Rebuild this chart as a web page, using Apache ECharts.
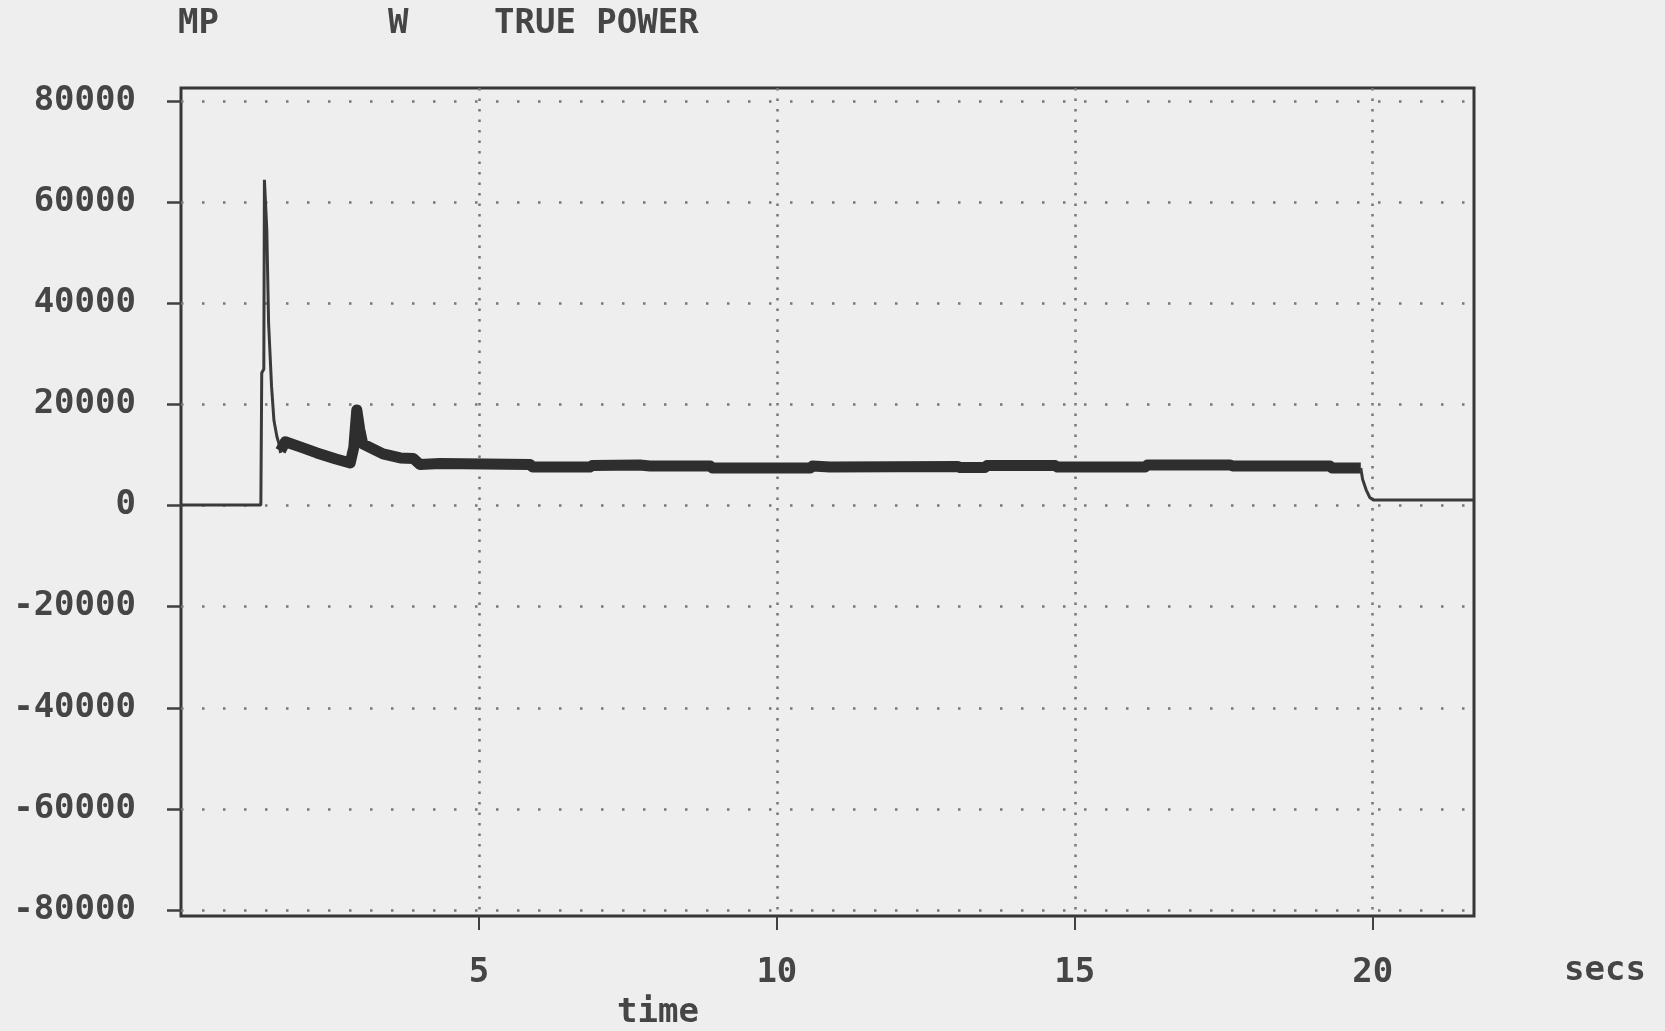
<!DOCTYPE html>
<html>
<head>
<meta charset="utf-8">
<script src="https://cdn.jsdelivr.net/npm/echarts@6/dist/echarts.min.js"></script>
<style>
  html, body { margin: 0; padding: 0; background: #eeeeee; }
  #main { width: 1665px; height: 1031px; }
</style>
</head>
<body>
<div id="main"></div>
<script>
// values (time in secs, power in W)
var riseTime  = [0, 1.34, 1.355, 1.355, 1.39, 1.40, 1.44, 1.47, 1.52, 1.56, 1.61, 1.65, 1.67];
var risePower = [100, 100, 100, 26200, 27000, 64400, 54500, 36100, 23500, 16800, 13600, 12000, 10400];

var bandTime  = [1.67, 1.75, 2.0, 2.28, 2.6, 2.84, 2.9, 2.95, 3.0, 3.05, 3.39, 3.68, 3.9, 4.01, 4.35, 5.86, 5.9, 6.86, 6.9, 7.7, 7.87, 8.88, 8.92, 10.56, 10.6, 10.89, 13.04, 13.08, 13.49, 13.53, 14.67, 14.71, 16.18, 16.22, 17.61, 17.65, 19.28, 19.32, 19.8];
var bandPower = [10800, 12600, 11600, 10400, 9200, 8400, 11500, 18900, 15000, 12200, 10200, 9400, 9300, 8100, 8300, 8100, 7600, 7600, 7900, 8000, 7800, 7800, 7400, 7400, 7800, 7600, 7700, 7500, 7500, 7900, 7900, 7600, 7600, 8000, 8000, 7800, 7800, 7400, 7400];

var tailTime  = [19.8, 19.83, 19.89, 19.95, 20.01, 21.7];
var tailPower = [7400, 5200, 3100, 1600, 1100, 1100];

var xTicks = [5, 10, 15, 20];
var yMin = -80000, yMax = 80000, yStep = 20000;

function pairs(t, v) { return t.map(function (x, i) { return [x, v[i]]; }); }

var textFont = { fontFamily: 'DejaVu Sans Mono', fontSize: 34, fontWeight: 'bold', fill: '#454545' };

var myChart = echarts.init(document.getElementById('main'));

var option = {
  backgroundColor: '#eeeeee',
  animation: false,
  grid: [
    { left: 181, top: 101, width: 1293, height: 809, outerBoundsMode: 'none', containLabel: false },
    { left: 181, top: 88, width: 1293, height: 828, outerBoundsMode: 'none', containLabel: false, show: true,
      borderColor: '#363636', borderWidth: 3, backgroundColor: 'transparent' }
  ],
  xAxis: [
    { gridIndex: 0, type: 'value', min: 0, max: 21.7, show: false },
    { gridIndex: 1, type: 'value', min: 0, max: 21.7, position: 'bottom',
      axisLine: { show: false },
      axisTick: { show: true, customValues: xTicks, length: 14, lineStyle: { color: '#404040', width: 2 } },
      axisLabel: { customValues: xTicks, margin: 40, fontFamily: 'DejaVu Sans Mono', fontSize: 34,
        fontWeight: 'bold', color: '#454545' },
      splitLine: { show: true, lineStyle: { color: '#777777', width: 2.5, type: [2.5, 8] } }
    }
  ],
  yAxis: [
    { gridIndex: 0, type: 'value', min: yMin, max: yMax, interval: yStep,
      axisLine: { show: false },
      axisTick: { show: true, length: 14, lineStyle: { color: '#404040', width: 2.5 } },
      axisLabel: { margin: 45, fontFamily: 'DejaVu Sans Mono', fontSize: 34, fontWeight: 'bold', color: '#454545',
        formatter: function (v) { return String(v); } },
      splitLine: { show: true, lineStyle: { color: '#777777', width: 2.5, type: [2.5, 18.5] } }
    },
    { gridIndex: 1, type: 'value', min: 0, max: 1, show: false }
  ],
  graphic: [
    { type: 'text', x: 178, y: 24, style: Object.assign({ text: 'MP', textVerticalAlign: 'middle' }, textFont) },
    { type: 'text', x: 388, y: 24, style: Object.assign({ text: 'W', textVerticalAlign: 'middle' }, textFont) },
    { type: 'text', x: 494, y: 24, style: Object.assign({ text: 'TRUE POWER', textVerticalAlign: 'middle' }, textFont) },
    { type: 'text', x: 658, y: 1013, style: Object.assign({ text: 'time', textAlign: 'center', textVerticalAlign: 'middle' }, textFont) },
    { type: 'text', x: 1605, y: 971, style: Object.assign({ text: 'secs', textAlign: 'center', textVerticalAlign: 'middle' }, textFont) }
  ],
  series: [
    { type: 'line', xAxisIndex: 0, yAxisIndex: 0, data: pairs(riseTime, risePower),
      symbol: 'none', silent: true, lineStyle: { color: '#3a3a3a', width: 3 } },
    { type: 'line', xAxisIndex: 0, yAxisIndex: 0, data: pairs(bandTime, bandPower),
      symbol: 'none', silent: true, lineStyle: { color: '#2e2e2e', width: 11, join: 'round' } },
    { type: 'line', xAxisIndex: 0, yAxisIndex: 0, data: pairs(tailTime, tailPower),
      symbol: 'none', silent: true, lineStyle: { color: '#3a3a3a', width: 3 } }
  ]
};

myChart.setOption(option);
</script>
</body>
</html>
